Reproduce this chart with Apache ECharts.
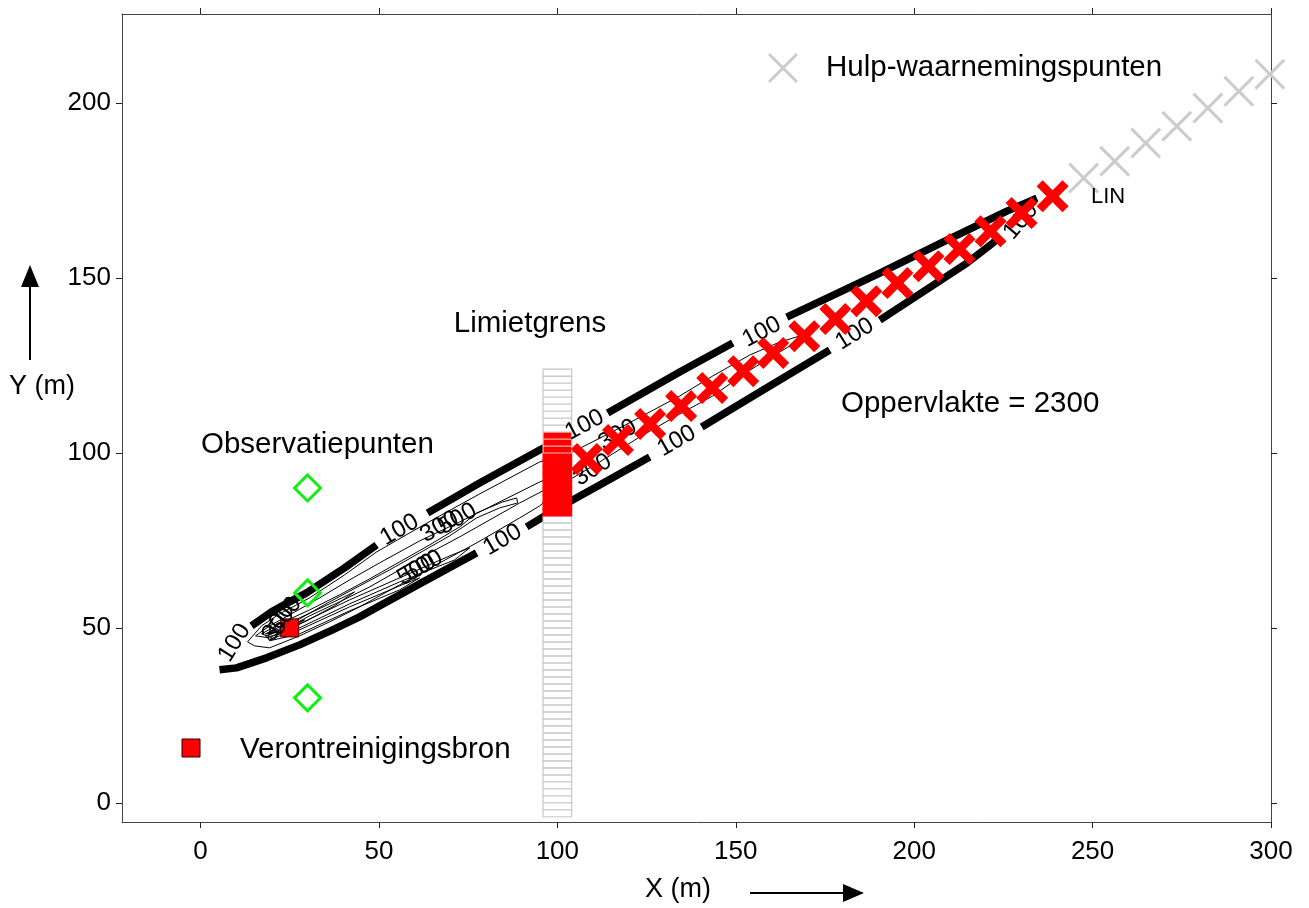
<!DOCTYPE html>
<html><head><meta charset="utf-8">
<script src="https://cdn.jsdelivr.net/npm/echarts@6/dist/echarts.min.js"></script>
<style>html,body{margin:0;padding:0;background:#fff}#c{width:1309px;height:908px}</style>
</head><body><div id="c"></div>
<script>
const FONT = '"Liberation Sans", Arial, Helvetica, sans-serif';

// ---- data ----
const xTicks = [0, 50, 100, 150, 200, 250, 300];
const yTicks = [0, 50, 100, 150, 200];

const observationPoints = [[30, 90], [30, 60], [30, 30]];
const sourcePoint = [[25, 50]];

const redCrosses = [[108.3, 98.3], [117.0, 103.7], [126.0, 108.3], [134.7, 113.4], [143.4, 118.6], [152.1, 123.4],
  [160.5, 128.6], [169.2, 133.4], [177.9, 138.3], [186.6, 143.4], [195.3, 148.6], [204.0, 153.4],
  [212.7, 158.3], [221.4, 163.4], [230.1, 168.6], [238.8, 173.4]];
const grayCrosses = [[247.5, 178.6], [256.2, 183.4], [264.9, 188.6], [273.6, 193.4], [282.3, 198.6], [291.0, 203.4], [299.7, 208.3]];

// 100 contour (thick), split where labels interrupt it
const contour100Segments = [
  [[14.30, 50.57], [19.91, 54.57], [24.95, 57.43], [29.72, 60.0], [40.37, 67.14], [49.35, 73.71]],
  [[63.64, 82.86], [78.22, 91.43], [95.05, 100.86], [102.06, 104.57]],
  [[114.11, 111.43], [134.30, 123.14], [149.16, 131.43]],
  [[164.30, 138.86], [174.39, 143.71], [190.37, 151.43], [209.16, 160.86], [225.98, 169.14], [234.39, 172.86]],
  [[224.02, 162.0], [222.05, 160.0], [214.77, 154.29], [190.37, 138.0]],
  [[176.35, 129.43], [156.73, 117.43], [140.47, 107.43]],
  [[125.89, 98.86], [111.87, 90.86], [104.30, 86.57], [96.45, 82.0], [91.40, 78.86]],
  [[77.38, 71.43], [61.40, 62.57], [44.58, 53.14], [37.01, 49.43], [27.76, 45.14], [18.50, 41.43], [10.09, 38.57], [5.33, 38.0]]
];

// inner contours (thin)
const contour300 = [[13.18, 46.0], [17.10, 50.57], [22.15, 54.0], [30.56, 58.57], [40.37, 65.14], [49.35, 71.71], [58.60, 77.14],
  [67.01, 82.0], [78.22, 88.29], [95.05, 97.43], [104.30, 100.29], [117.47, 107.14], [134.30, 116.29], [143.55, 122.0],
  [153.92, 128.0], [162.33, 131.71], [171.59, 134.57], [162.33, 128.86], [153.08, 123.14], [143.55, 116.29], [134.30, 111.14],
  [123.08, 104.57], [111.87, 97.43], [104.30, 92.86], [95.05, 84.86], [89.44, 81.43], [77.38, 74.29], [67.01, 68.57],
  [55.79, 62.29], [44.58, 56.0], [36.17, 51.71], [27.76, 47.71], [19.35, 44.29], [15.14, 44.86], [13.18, 46.0]];
const contour500 = [[15.42, 47.71], [19.35, 50.57], [24.95, 53.71], [33.36, 58.57], [41.78, 63.71], [50.19, 68.57], [61.40, 74.86],
  [72.62, 80.29], [83.83, 86.0], [95.05, 91.71], [100.65, 94.0], [96.45, 89.43], [89.44, 85.71], [81.03, 80.86], [72.62, 76.0],
  [64.20, 71.43], [55.79, 66.57], [47.38, 61.71], [38.97, 57.43], [30.56, 53.43], [24.95, 50.29], [19.35, 47.14], [15.42, 47.71]];
const contour700 = [[17.10, 48.29], [22.15, 51.14], [30.56, 55.14], [38.97, 59.43], [47.38, 64.0], [55.79, 68.86], [64.20, 73.71],
  [72.62, 78.86], [77.38, 82.86], [84.67, 86.0], [88.60, 87.14], [88.88, 85.71], [83.83, 84.29], [77.38, 81.43], [69.81, 76.29],
  [61.40, 71.43], [52.99, 66.57], [44.58, 62.0], [36.17, 57.43], [27.76, 52.57], [22.15, 49.43], [18.78, 47.71], [17.10, 48.29]];
const contour900 = [[18.22, 47.71], [27.76, 51.14], [41.78, 58.0], [55.79, 64.29], [69.81, 70.57], [75.42, 72.86], [71.21, 69.43],
  [55.79, 63.14], [41.78, 56.86], [27.76, 50.0], [19.35, 46.57], [18.22, 47.71]];
const contour1100 = [[18.78, 47.43], [27.76, 49.43], [41.78, 56.0], [55.79, 62.0], [61.40, 64.29], [55.79, 60.86], [41.78, 54.86],
  [27.76, 48.29], [19.35, 46.29], [18.78, 47.43]];
const contour1500 = [[18.22, 48.29], [22.15, 50.29], [27.76, 52.86], [36.17, 56.86], [43.18, 60.29], [37.57, 56.29], [29.16, 51.71], [22.99, 48.86], [18.22, 48.29]];
const contour2000 = [[19.35, 48.57], [23.55, 50.29], [29.16, 52.29], [24.95, 49.71], [19.35, 48.57]];
const thinContours = [contour300, contour500, contour700, contour900, contour1100, contour1500, contour2000];

const contourLabelPos = [[9.53, 45.71], [55.79, 78.0], [107.66, 108.0], [157.29, 134.57], [84.67, 75.14], [133.46, 103.43],
  [183.36, 134.0], [229.9, 166.29], [116.91, 105.14], [109.91, 95.14], [67.01, 78.86], [72.06, 81.14],
  [60.56, 66.57], [62.52, 67.71], [21.87, 51.71], [23.83, 53.43]];
const contourLabelText = ['100', '100', '100', '100', '100', '100', '100', '100', '300', '300', '300', '500', '500', '500', '300', '500'];
const contourLabelAngle = [58, 30, 28, 28, 30, 30, 32, 50, 30, 32, 30, 30, 30, 30, 57, 57];

const limitX = [96, 104];
const limitCellH = 2;
const limitCellBottoms = [-4, -2, 0, 2, 4, 6, 8, 10, 12, 14, 16, 18, 20, 22, 24, 26, 28, 30, 32, 34, 36, 38, 40, 42, 44, 46, 48,
  50, 52, 54, 56, 58, 60, 62, 64, 66, 68, 70, 72, 74, 76, 78, 80, 82, 84, 86, 88, 90, 92, 94, 96, 98, 100, 102, 104,
  106, 108, 110, 112, 114, 116, 118, 120, 122];
const limitCellState = [0, 0, 0, 0, 0, 0, 0, 0, 0, 0, 0, 0, 0, 0, 0, 0, 0, 0, 0, 0, 0, 0, 0, 0, 0, 0, 0,
  0, 0, 0, 0, 0, 0, 0, 0, 0, 0, 0, 0, 0, 0, 0, 0, 1, 1, 1, 1, 1, 1, 1, 1, 1, 2, 2, 2,
  0, 0, 0, 0, 0, 0, 0, 0, 0];

// ---- chart ----
const chart = echarts.init(document.getElementById('c'), null, { renderer: 'canvas' });

function xAx(pos, labels) {
  return {
    type: 'value', position: pos, min: -22, max: 300,
    axisLine: { show: true, onZero: false, lineStyle: { color: '#444', width: 1 } },
    axisTick: { show: true, length: 6, inside: false, customValues: xTicks, lineStyle: { color: '#222', width: 1 } },
    axisLabel: { show: labels, customValues: xTicks, fontSize: 26, color: '#000', fontFamily: FONT, margin: 17 },
    splitLine: { show: false }
  };
}
function yAx(pos, labels) {
  return {
    type: 'value', position: pos, min: -5.5, max: 225.5,
    axisLine: { show: true, onZero: false, lineStyle: { color: '#444', width: 1 } },
    axisTick: { show: true, length: 6, inside: false, customValues: yTicks, lineStyle: { color: '#222', width: 1 } },
    axisLabel: { show: labels, customValues: yTicks, fontSize: 26, color: '#000', fontFamily: FONT, margin: 11 },
    splitLine: { show: false }
  };
}

const series = [];
contour100Segments.forEach(seg => series.push({
  type: 'line', data: seg, symbol: 'none', silent: true, z: 2,
  lineStyle: { color: '#000', width: 7.5, cap: 'butt', join: 'round' }
}));
thinContours.forEach(c => series.push({
  type: 'line', data: c, symbol: 'none', silent: true, z: 2,
  lineStyle: { color: '#000', width: 1 }
}));
series.push({
  type: 'custom', silent: true, z: 3,
  data: limitCellBottoms.map((y, i) => [limitX[0], y, limitCellState[i]]),
  encode: { x: 0, y: 1 },
  renderItem: function (params, api) {
    const y0 = api.value(1), st = api.value(2);
    const p1 = api.coord([limitX[0], y0 + limitCellH]);
    const p2 = api.coord([limitX[1], y0]);
    return {
      type: 'rect',
      shape: { x: p1[0], y: p1[1], width: p2[0] - p1[0], height: p2[1] - p1[1] },
      style: { fill: st ? '#ff0000' : '#ffffff', stroke: st === 1 ? '#ff0000' : (st === 2 ? '#f7b0b0' : '#c8c8c8'), lineWidth: 1.2 }
    };
  }
});
series.push({
  type: 'scatter', data: sourcePoint, symbol: 'rect', symbolSize: 18, silent: true, z: 4,
  itemStyle: { color: '#ff0000', borderColor: '#300', borderWidth: 1, opacity: 1 }
});
series.push({
  type: 'scatter', silent: true, z: 5, symbolSize: 1,
  itemStyle: { color: 'transparent', opacity: 1 },
  label: { show: true, position: 'inside', fontSize: 24, color: '#000', fontFamily: FONT, textBorderWidth: 0, opacity: 1 },
  data: contourLabelPos.map((p, i) => ({ value: p, label: { formatter: contourLabelText[i], rotate: contourLabelAngle[i] } }))
});
series.push({
  type: 'scatter', data: observationPoints, symbol: 'diamond', symbolSize: 26, silent: true, z: 6,
  itemStyle: { color: 'transparent', borderColor: '#11ee11', borderWidth: 3, opacity: 1 }
});
series.push({
  type: 'scatter', data: redCrosses, silent: true, z: 7, symbolSize: 32,
  symbol: 'path://M0,19L19,0L50,31L81,0L100,19L69,50L100,81L81,100L50,69L19,100L0,81L31,50Z',
  itemStyle: { color: '#ff0000', opacity: 1 }
});
series.push({
  type: 'scatter', data: grayCrosses, silent: true, z: 7, symbolSize: 31,
  symbol: 'path://M0,7L7,0L50,43L93,0L100,7L57,50L100,93L93,100L50,57L7,100L0,93L43,50Z',
  itemStyle: { color: '#cccccc', opacity: 1 }
});

function txt(x, y, s, size, align) {
  return { type: 'text', x: x, y: y, z: 100, silent: true,
    style: { text: s, fontSize: size, fontFamily: FONT, fill: '#000', align: align || 'left', verticalAlign: 'middle',
      textAlign: align || 'left', textVerticalAlign: 'middle' } };
}

const option = {
  animation: false,
  backgroundColor: '#fff',
  grid: { left: 122, right: 38, top: 14, bottom: 86, containLabel: false, outerBoundsMode: 'none' },
  xAxis: [xAx('bottom', true), xAx('top', false)],
  yAxis: [yAx('left', true), yAx('right', false)],
  series: series,
  graphic: [
    txt(826, 68, 'Hulp-waarnemingspunten', 29.5),
    txt(1091, 197, 'LIN', 22),
    txt(530, 324, 'Limietgrens', 29.5, 'center'),
    txt(841, 404, 'Oppervlakte = 2300', 29.5),
    txt(201, 445, 'Observatiepunten', 29.5),
    txt(240, 750, 'Verontreinigingsbron', 29.5),
    txt(42, 387, 'Y (m)', 27, 'center'),
    txt(678, 890, 'X (m)', 27, 'center'),
    { type: 'line', silent: true, shape: { x1: 769, y1: 54, x2: 797, y2: 82 }, style: { stroke: '#cccccc', lineWidth: 3 } },
    { type: 'line', silent: true, shape: { x1: 769, y1: 82, x2: 797, y2: 54 }, style: { stroke: '#cccccc', lineWidth: 3 } },
    { type: 'rect', silent: true, shape: { x: 182, y: 739, width: 18, height: 18 }, style: { fill: '#ff0000', stroke: '#300', lineWidth: 1 } },
    { type: 'line', silent: true, shape: { x1: 30, y1: 360, x2: 30, y2: 284 }, style: { stroke: '#000', lineWidth: 2 } },
    { type: 'polygon', silent: true, shape: { points: [[30, 265], [21, 287], [39, 287]] }, style: { fill: '#000' } },
    { type: 'line', silent: true, shape: { x1: 750, y1: 893, x2: 845, y2: 893 }, style: { stroke: '#000', lineWidth: 2 } },
    { type: 'polygon', silent: true, shape: { points: [[864, 893], [843, 884], [843, 902]] }, style: { fill: '#000' } }
  ]
};
chart.setOption(option);
</script>
</body></html>
